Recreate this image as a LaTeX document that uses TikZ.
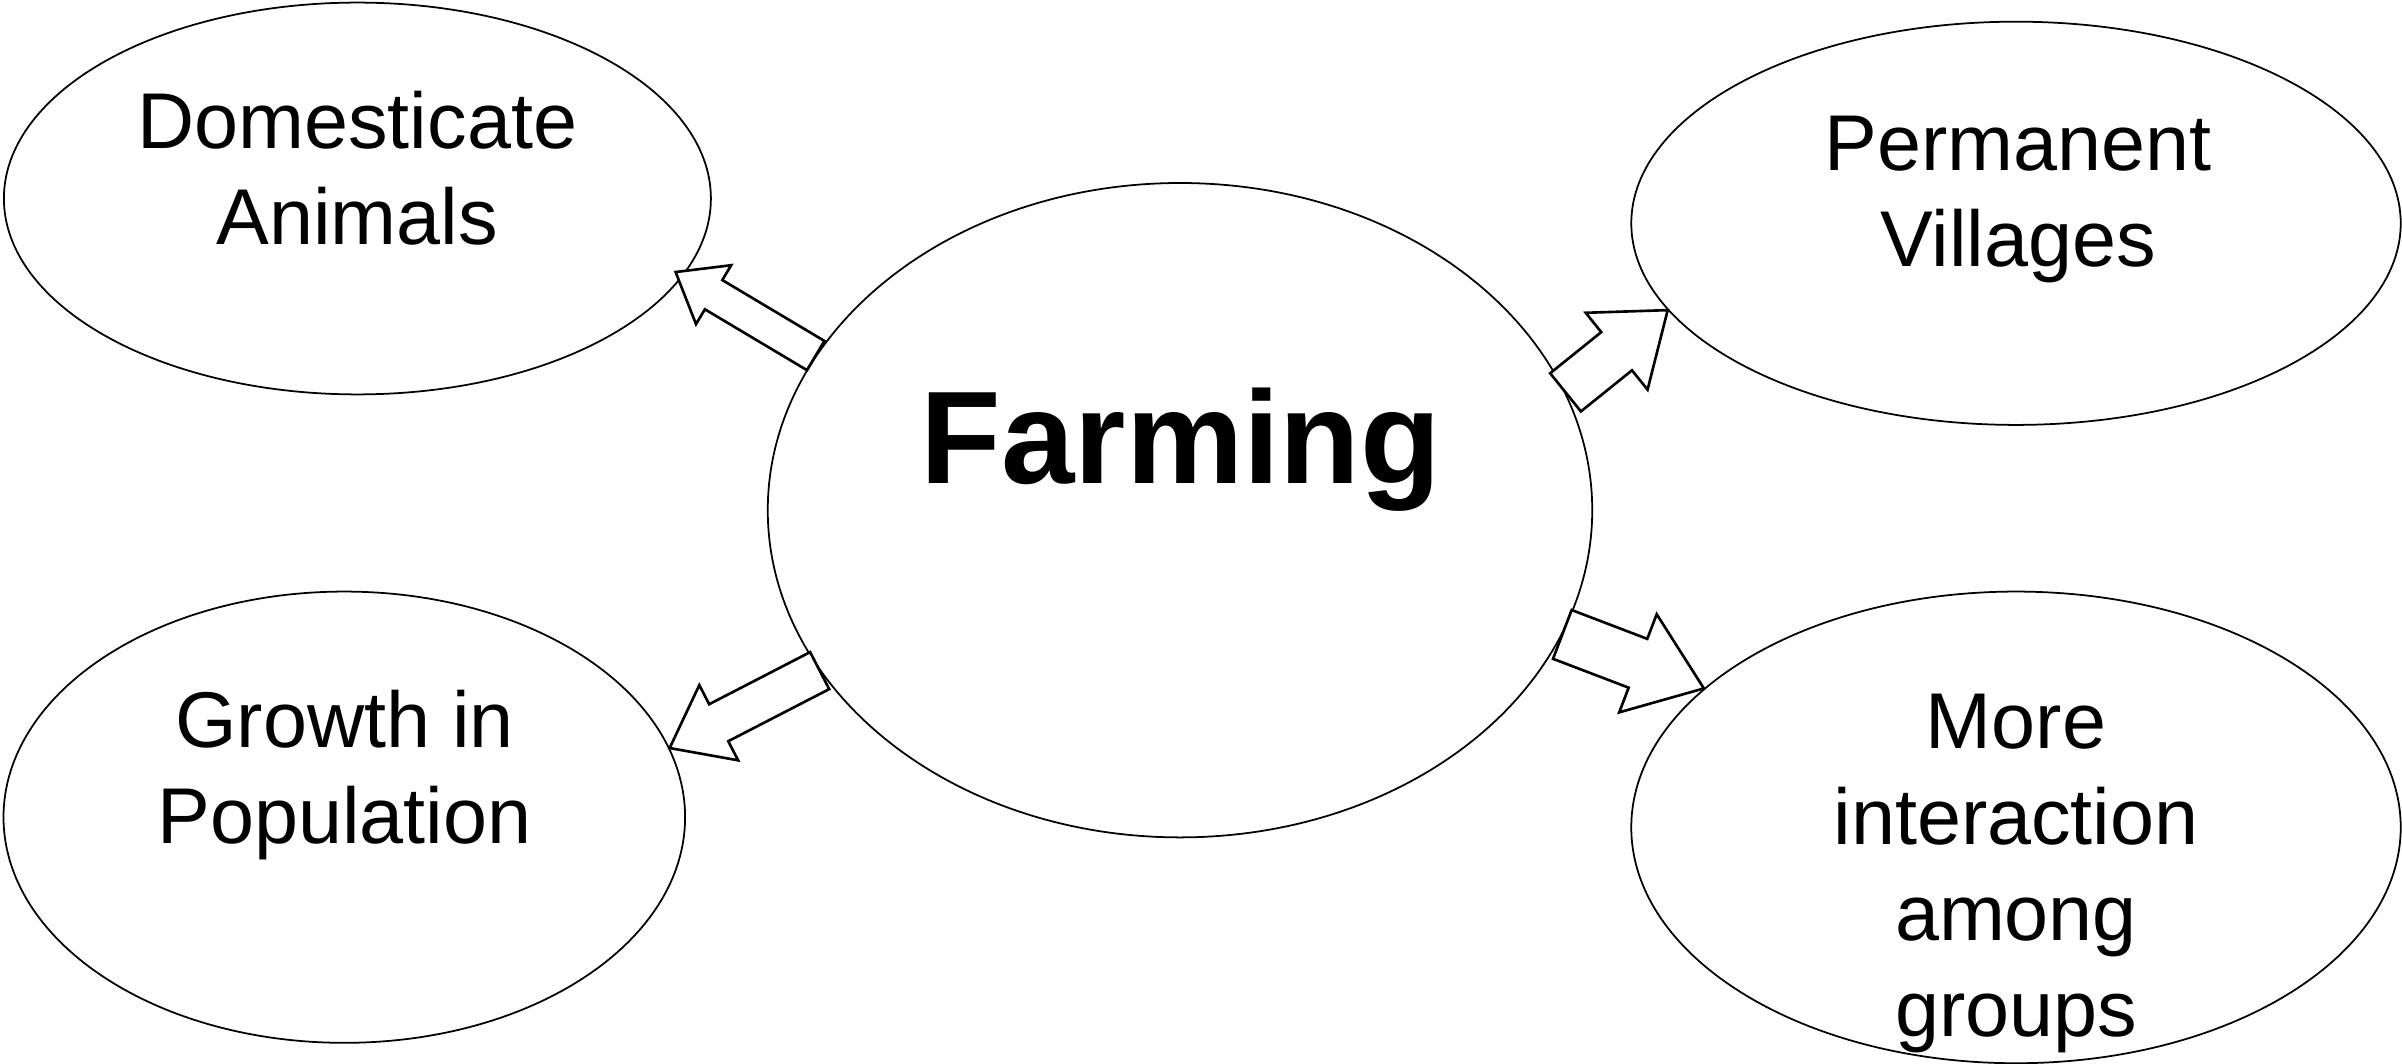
\documentclass[tikz,border=0pt]{standalone}
\usepackage{fontspec}
\setmainfont{Liberation Sans}
\usepackage{tikz}
\usetikzlibrary{calc,shapes.geometric}

% hollow block arrow from #1 (tail) to #2 (tip)
% #3 half shaft width, #4 half head width, #5 head length
\newcommand\fatarrow[5]{%
  \coordinate (hb) at ($(#2)!#5!(#1)$);
  \draw[blockarrow] ($(#1)!#3!90:(#2)$) -- ($(hb)!#3!90:(#2)$) -- ($(hb)!#4!90:(#2)$)
    -- (#2) -- ($(hb)!#4!-90:(#2)$) -- ($(hb)!#3!-90:(#2)$) -- ($(#1)!#3!-90:(#2)$) -- cycle;
}

\tikzset{
  bubble/.style={ellipse, draw, line width=0.5pt, inner sep=0pt},
  words/.style={anchor=north, inner sep=0pt, align=center, font=\fontsize{22.5pt}{27.3pt}\selectfont},
  blockarrow/.style={draw, fill=white, line width=0.75pt, line join=miter},
}

\begin{document}
\begin{tikzpicture}[x=0.01cm, y=-0.01cm]
\useasboundingbox (0,0) rectangle (2402,1064);

% the five ellipses
\node[bubble, minimum width=7.066cm, minimum height=3.916cm] (dom) at (357.4,198.5) {};
\node[bubble, minimum width=7.69cm, minimum height=4.03cm] (vil) at (2016,223.3) {};
\node[bubble, minimum width=8.24cm, minimum height=6.54cm] (farm) at (1180,510.2) {};
\node[bubble, minimum width=6.812cm, minimum height=4.51cm] (pop) at (344.3,817.2) {};
\node[bubble, minimum width=7.69cm, minimum height=4.714cm] (grp) at (2016,827.4) {};

% texts
\node[words] (domtext) at (357.2,90) {Domesticate\\Animals};
\node[words] (viltext) at (2017.9,115.4) {Permanent\\Villages};
\node[words, font=\bfseries\fontsize{37.5pt}{45pt}\selectfont] (farmtext) at (1181,386.8) {Farming};
\node[words] (poptext) at (344.4,689) {Growth in\\Population};
\node[words] (grptext) at (2016,693.5) {More\\interaction\\among\\groups};

% tip of the upper left arrow sits a little inside its ellipse
\coordinate (domtip) at ($(dom.-13)+(-9,-2)$);

% arrows out of farming
\fatarrow{farm.157}{domtip}{0.17cm}{0.343cm}{0.442cm}
\fatarrow{farm.17.6}{vil.194.8}{0.245cm}{0.493cm}{0.655cm}
\fatarrow{farm.204.1}{pop.12.3}{0.208cm}{0.423cm}{0.552cm}
\fatarrow{farm.-18.3}{grp.156.6}{0.261cm}{0.525cm}{0.705cm}

\end{tikzpicture}
\end{document}
